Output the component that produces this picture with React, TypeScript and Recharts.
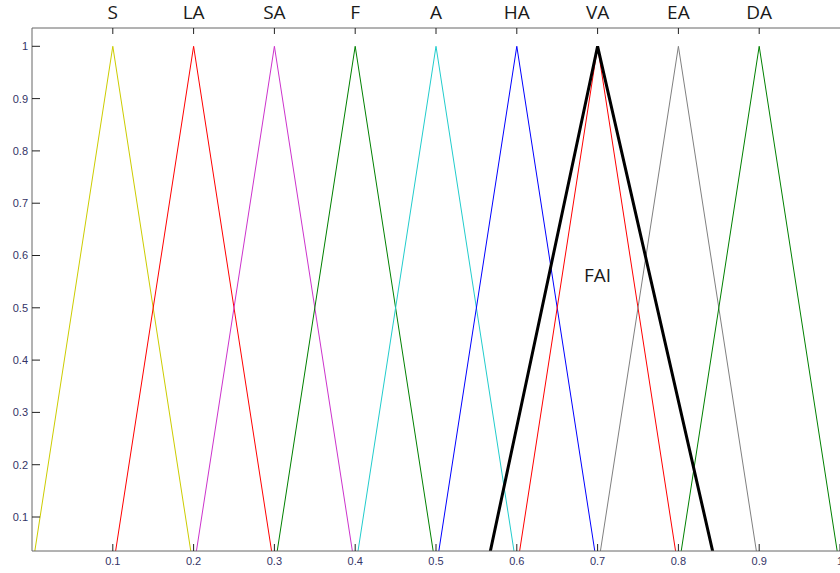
import React from 'react';
import { LineChart, Line, XAxis, YAxis, ReferenceDot } from 'recharts';

// membership function labels along the top
const labels = ['S', 'LA', 'SA', 'F', 'A', 'HA', 'VA', 'EA', 'DA'];
const peaks = [0.1, 0.2, 0.3, 0.4, 0.5, 0.6, 0.7, 0.8, 0.9];
const xTicks = [0.1, 0.2, 0.3, 0.4, 0.5, 0.6, 0.7, 0.8, 0.9, 1];
const yTicks = [0.1, 0.2, 0.3, 0.4, 0.5, 0.6, 0.7, 0.8, 0.9, 1];

// triangles (x, membership)
const S = [{ x: 0, y: 0 }, { x: 0.1, y: 1 }, { x: 0.2, y: 0 }];
const LA = [{ x: 0.1, y: 0 }, { x: 0.2, y: 1 }, { x: 0.3, y: 0 }];
const SA = [{ x: 0.2, y: 0 }, { x: 0.3, y: 1 }, { x: 0.4, y: 0 }];
const F = [{ x: 0.3, y: 0 }, { x: 0.4, y: 1 }, { x: 0.5, y: 0 }];
const A = [{ x: 0.4, y: 0 }, { x: 0.5, y: 1 }, { x: 0.6, y: 0 }];
const HA = [{ x: 0.5, y: 0 }, { x: 0.6, y: 1 }, { x: 0.7, y: 0 }];
const VA = [{ x: 0.6, y: 0 }, { x: 0.7, y: 1 }, { x: 0.8, y: 0 }];
const EA = [{ x: 0.7, y: 0 }, { x: 0.8, y: 1 }, { x: 0.9, y: 0 }];
const DA = [{ x: 0.8, y: 0 }, { x: 0.9, y: 1 }, { x: 1, y: 0 }];
const FAI = [{ x: 0.5625, y: 0 }, { x: 0.7, y: 1 }, { x: 0.8475, y: 0 }];

const series = [
  { name: 'S', data: S, color: '#cccc00' },
  { name: 'LA', data: LA, color: '#ff0000' },
  { name: 'SA', data: SA, color: '#cc33cc' },
  { name: 'F', data: F, color: '#008000' },
  { name: 'A', data: A, color: '#22cccc' },
  { name: 'HA', data: HA, color: '#0000ff' },
  { name: 'VA', data: VA, color: '#ff0000' },
  { name: 'EA', data: EA, color: '#808080' },
  { name: 'DA', data: DA, color: '#008000' },
];

const numFont = { fontSize: 11, fill: '#333366', fontFamily: 'Liberation Sans, Arial, sans-serif' };
const axisGray = { stroke: '#666666' };

export default function App() {
  return (
    <div style={{ position: 'absolute', left: 0, top: 0, background: '#fff' }}>
      <LineChart width={840} height={573} margin={{ top: 0, right: 0, bottom: 0, left: 0 }}>
        <XAxis
          xAxisId="bottom"
          type="number"
          dataKey="x"
          domain={[0, 1]}
          ticks={xTicks}
          height={22}
          tickSize={-7}
          tickMargin={13}
          axisLine={axisGray}
          tickLine={{ stroke: '#222' }}
          tick={numFont}
          interval={0}
        />
        <XAxis
          xAxisId="top"
          orientation="top"
          type="number"
          dataKey="x"
          domain={[0, 1]}
          ticks={peaks}
          height={28}
          tickSize={-6}
          tickMargin={15}
          tickFormatter={(v: number) => labels[peaks.indexOf(v)] ?? ''}
          axisLine={axisGray}
          tickLine={{ stroke: '#222' }}
          tick={{ fontSize: 19, fill: '#1a1a1a', fontFamily: 'Open Sans, sans-serif' }}
          interval={0}
        />
        <YAxis
          yAxisId="left"
          type="number"
          domain={[0.035, 1.035]}
          allowDataOverflow
          ticks={yTicks}
          width={32}
          tickSize={-8}
          tickMargin={12}
          axisLine={axisGray}
          tickLine={{ stroke: '#222' }}
          tick={numFont}
          interval={0}
        />
        <YAxis
          yAxisId="right"
          orientation="right"
          type="number"
          domain={[0.035, 1.035]}
          allowDataOverflow
          ticks={yTicks}
          width={0}
          tickSize={-8}
          tickMargin={0}
          tickFormatter={() => ''}
          axisLine={axisGray}
          tickLine={{ stroke: '#222' }}
          interval={0}
        />
        {series.map((s) => (
          <Line
            key={s.name}
            xAxisId="bottom"
            yAxisId="left"
            data={s.data}
            dataKey="y"
            type="linear"
            stroke={s.color}
            strokeWidth={1}
            dot={false}
            activeDot={false}
            isAnimationActive={false}
          />
        ))}
        {/* invisible series so the top and right axes get their ticks */}
        <Line
          xAxisId="top"
          yAxisId="right"
          data={FAI}
          dataKey="y"
          type="linear"
          stroke="none"
          dot={false}
          activeDot={false}
          isAnimationActive={false}
        />
        <Line
          xAxisId="bottom"
          yAxisId="left"
          data={FAI}
          dataKey="y"
          type="linear"
          stroke="#000"
          strokeWidth={3}
          dot={false}
          activeDot={false}
          isAnimationActive={false}
        />
        <ReferenceDot
          xAxisId="bottom"
          yAxisId="left"
          x={0.7}
          y={0.562}
          r={0}
          stroke="none"
          fill="none"
          label={{ value: 'FAI', position: 'center', fontSize: 19, fill: '#1a1a1a', fontFamily: 'Open Sans, sans-serif' }}
        />
      </LineChart>
    </div>
  );
}
